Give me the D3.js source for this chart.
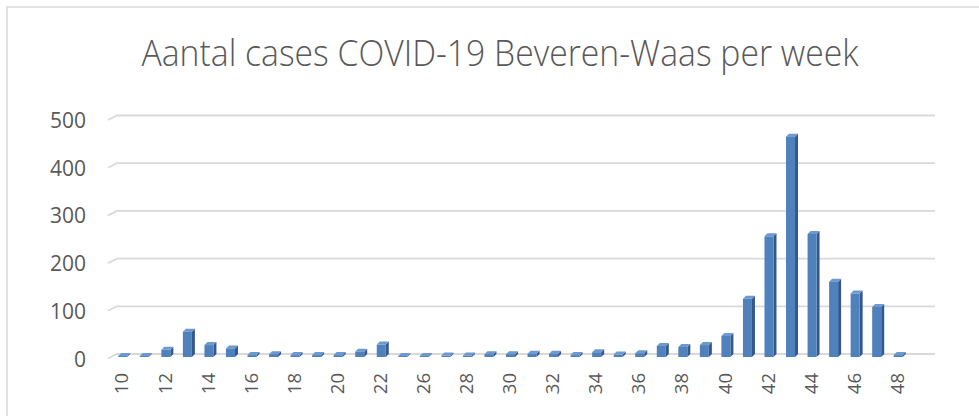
<!DOCTYPE html>
<html>
<head>
<meta charset="utf-8">
<script src="https://d3js.org/d3.v7.min.js"></script>
<style>
  body { margin: 0; background: #fff; }
  svg { display: block; }
</style>
</head>
<body>
<svg id="chart"></svg>
<script>
  // weeks (categories) and weekly case counts
  var weeks = ["10", "11", "12", "13", "14", "15", "16", "17", "18", "19", "20", "21", "22",
    "24", "26", "27", "28", "29", "30", "31", "32", "33", "34", "35", "36", "37", "38",
    "39", "40", "41", "42", "43", "44", "45", "46", "47", "48"];
  var cases = [2, 2, 15, 53, 25, 18, 4, 6, 4, 4, 4, 11, 26,
    2, 2, 3, 3, 6, 6, 7, 7, 4, 10, 5, 8, 23, 21,
    25, 44, 122, 253, 462, 258, 158, 133, 105, 4];
  var yTicks = [0, 100, 200, 300, 400, 500];
  var title = "Aantal cases COVID-19 Beveren-Waas per week";

  var width = 979, height = 416;
  var svg = d3.select("#chart").attr("width", width).attr("height", height);

  // chart area border
  svg.append("rect")
    .attr("x", 7).attr("y", 7)
    .attr("width", 990).attr("height", 430)
    .attr("fill", "none")
    .attr("stroke", "#d9d9d9")
    .attr("stroke-width", 1.5);

  svg.append("text")
    .attr("x", 500).attr("y", 66)
    .attr("text-anchor", "middle")
    .attr("textLength", 717)
    .attr("lengthAdjust", "spacingAndGlyphs")
    .style("font-family", "'Open Sans', sans-serif")
    .style("font-weight", 300)
    .style("font-size", "37px")
    .style("fill", "#595959")
    .text(title);

  var x = d3.scaleBand().domain(weeks).range([112, 909]).paddingInner(0);
  var y = d3.scaleLinear().domain([0, 500]).range([354, 115.5]);

  // gridlines with the 3D floor slant on the left
  var grid = svg.append("g");
  yTicks.forEach(function(t) {
    grid.append("path")
      .attr("d", "M108," + (y(t) + 4.5) + "L117," + y(t) + "L935," + y(t))
      .attr("fill", "none")
      .attr("stroke", "#d9d9d9")
      .attr("stroke-width", 1.8);
  });

  svg.append("g").selectAll("text")
    .data(yTicks)
    .enter()
    .append("text")
    .attr("x", 86)
    .attr("y", function(d) { return y(d) + 5; })
    .attr("dy", "0.36em")
    .attr("text-anchor", "end")
    .style("font-family", "'Open Sans', sans-serif")
    .style("font-size", "21px")
    .style("fill", "#595959")
    .text(function(d) { return d; });

  // 3D columns: front, side and top faces
  var dx = 3, dy = 3, half = 4.5;
  var bars = svg.append("g").selectAll("g")
    .data(weeks.map(function(w, i) { return { week: w, value: cases[i] }; }))
    .enter()
    .append("g");

  function cx(d) { return x(d.week) + x.bandwidth() / 2; }

  bars.append("path")
    .attr("fill", "#35588a")
    .attr("d", function(d) {
      var r = cx(d) + half, t = y(d.value) + dy, b = y(0) + dy;
      return "M" + r + "," + t + "L" + (r + dx) + "," + (t - dy) + "L" + (r + dx) + "," + (b - dy) +
        "L" + r + "," + b + "Z";
    });

  bars.append("path")
    .attr("fill", "#6e98d0")
    .attr("d", function(d) {
      var l = cx(d) - half, r = cx(d) + half, t = y(d.value) + dy;
      return "M" + l + "," + t + "L" + (l + dx) + "," + (t - dy) + "L" + (r + dx) + "," + (t - dy) +
        "L" + r + "," + t + "Z";
    });

  bars.append("rect")
    .attr("fill", "#4f81bd")
    .attr("x", function(d) { return cx(d) - half; })
    .attr("y", function(d) { return y(d.value) + dy; })
    .attr("width", half * 2)
    .attr("height", function(d) { return y(0) - y(d.value); });

  // every other week label, rotated
  svg.append("g").selectAll("text")
    .data(weeks.filter(function(w, i) { return i % 2 == 0; }))
    .enter()
    .append("text")
    .attr("transform", function(d) {
      return "translate(" + (x(d) + x.bandwidth() / 2 - 1) + ",373) rotate(-90)";
    })
    .attr("dy", "0.36em")
    .attr("text-anchor", "end")
    .style("font-family", "'Open Sans', sans-serif")
    .style("font-size", "18.5px")
    .style("fill", "#595959")
    .text(function(d) { return d; });
</script>
</body>
</html>
